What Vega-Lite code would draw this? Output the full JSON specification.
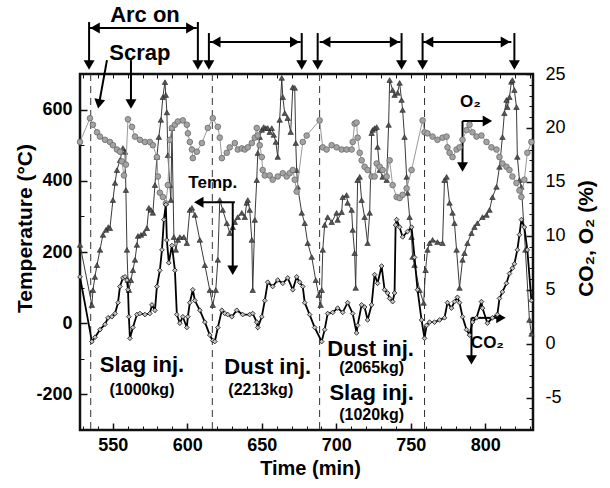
{
"$schema":"https://vega.github.io/schema/vega-lite/v6.json",
"width":453,"height":356,
"autosize":{"type":"none"},
"padding":{"left":80,"top":74,"right":77,"bottom":58},
"background":"white",
"config":{"view":{"stroke":"#111","strokeWidth":2.5},"font":"Liberation Sans","axis":{"grid":false,"domain":false,"labelFont":"Liberation Sans","titleFont":"Liberation Sans","labelColor":"#000","titleColor":"#000","tickColor":"#111"}},
"datasets":{
"temp":[{"t":528.0,"v":220},{"t":536.0,"v":51},{"t":536.7,"v":93},{"t":538.0,"v":130},{"t":539.4,"v":163},{"t":541.4,"v":206},{"t":543.4,"v":248},{"t":545.4,"v":262},{"t":547.0,"v":270},{"t":548.1,"v":267},{"t":550.1,"v":346},{"t":551.5,"v":394},{"t":552.8,"v":430},{"t":554.8,"v":458},{"t":556.8,"v":492},{"t":558.2,"v":481},{"t":558.8,"v":374},{"t":559.5,"v":206},{"t":560.2,"v":121},{"t":560.8,"v":93},{"t":562.2,"v":121},{"t":563.5,"v":149},{"t":564.9,"v":178},{"t":566.2,"v":220},{"t":566.9,"v":245},{"t":568.9,"v":248},{"t":570.9,"v":253},{"t":572.9,"v":267},{"t":574.2,"v":324},{"t":575.6,"v":318},{"t":576.9,"v":310},{"t":578.3,"v":388},{"t":579.6,"v":467},{"t":580.9,"v":523},{"t":582.3,"v":571},{"t":583.6,"v":635},{"t":585.0,"v":677},{"t":585.6,"v":641},{"t":586.3,"v":592},{"t":587.0,"v":472},{"t":588.3,"v":388},{"t":589.0,"v":346},{"t":589.7,"v":548},{"t":591.0,"v":242},{"t":592.3,"v":206},{"t":593.7,"v":234},{"t":595.0,"v":242},{"t":597.7,"v":242},{"t":599.7,"v":225},{"t":601.7,"v":318},{"t":603.1,"v":324},{"t":605.1,"v":304},{"t":608.4,"v":234},{"t":611.8,"v":163},{"t":615.1,"v":93},{"t":617.1,"v":51},{"t":619.1,"v":93},{"t":620.5,"v":178},{"t":621.8,"v":346},{"t":623.8,"v":318},{"t":626.5,"v":281},{"t":628.5,"v":253},{"t":630.5,"v":270},{"t":631.9,"v":284},{"t":633.9,"v":298},{"t":636.6,"v":310},{"t":638.6,"v":298},{"t":639.9,"v":338},{"t":640.6,"v":346},{"t":641.9,"v":318},{"t":643.3,"v":234},{"t":643.9,"v":93},{"t":645.3,"v":290},{"t":646.6,"v":402},{"t":647.3,"v":478},{"t":648.6,"v":523},{"t":650.0,"v":543},{"t":651.3,"v":551},{"t":652.7,"v":548},{"t":654.0,"v":548},{"t":655.3,"v":537},{"t":656.7,"v":548},{"t":658.0,"v":529},{"t":659.4,"v":509},{"t":660.7,"v":467},{"t":662.0,"v":571},{"t":663.4,"v":689},{"t":664.1,"v":635},{"t":665.4,"v":590},{"t":667.4,"v":576},{"t":669.4,"v":537},{"t":670.8,"v":663},{"t":672.1,"v":661},{"t":672.8,"v":506},{"t":673.4,"v":430},{"t":674.1,"v":383},{"t":676.8,"v":310},{"t":678.8,"v":281},{"t":680.8,"v":225},{"t":683.5,"v":186},{"t":686.2,"v":121},{"t":688.2,"v":79},{"t":689.5,"v":51},{"t":690.2,"v":93},{"t":690.9,"v":206},{"t":692.2,"v":276},{"t":694.2,"v":298},{"t":696.9,"v":284},{"t":700.2,"v":310},{"t":700.9,"v":290},{"t":703.6,"v":312},{"t":704.3,"v":354},{"t":706.9,"v":360},{"t":707.6,"v":338},{"t":710.3,"v":318},{"t":711.0,"v":262},{"t":712.3,"v":197},{"t":713.0,"v":99},{"t":714.3,"v":402},{"t":715.7,"v":411},{"t":717.0,"v":346},{"t":719.0,"v":298},{"t":721.0,"v":225},{"t":722.4,"v":310},{"t":723.7,"v":534},{"t":724.4,"v":543},{"t":725.7,"v":548},{"t":727.1,"v":551},{"t":727.7,"v":495},{"t":729.1,"v":430},{"t":731.1,"v":411},{"t":733.8,"v":402},{"t":735.1,"v":557},{"t":735.8,"v":683},{"t":737.8,"v":655},{"t":739.1,"v":641},{"t":741.1,"v":647},{"t":742.5,"v":675},{"t":743.8,"v":627},{"t":744.5,"v":599},{"t":745.8,"v":523},{"t":747.2,"v":411},{"t":747.8,"v":366},{"t":749.2,"v":298},{"t":750.5,"v":242},{"t":751.2,"v":186},{"t":752.5,"v":163},{"t":755.9,"v":93},{"t":758.6,"v":57},{"t":759.9,"v":149},{"t":761.2,"v":206},{"t":762.6,"v":225},{"t":764.6,"v":234},{"t":767.9,"v":228},{"t":771.3,"v":225},{"t":772.6,"v":402},{"t":774.0,"v":411},{"t":776.0,"v":338},{"t":778.0,"v":310},{"t":779.3,"v":281},{"t":780.7,"v":206},{"t":782.7,"v":99},{"t":784.7,"v":178},{"t":786.0,"v":197},{"t":788.0,"v":225},{"t":790.7,"v":253},{"t":792.7,"v":270},{"t":794.7,"v":281},{"t":798.1,"v":298},{"t":800.8,"v":304},{"t":802.8,"v":318},{"t":804.8,"v":354},{"t":807.5,"v":383},{"t":809.5,"v":439},{"t":811.5,"v":523},{"t":812.8,"v":590},{"t":814.2,"v":627},{"t":814.8,"v":607},{"t":816.2,"v":635},{"t":817.5,"v":678},{"t":818.2,"v":683},{"t":819.5,"v":655},{"t":820.9,"v":607},{"t":821.5,"v":467},{"t":822.9,"v":402},{"t":824.2,"v":383},{"t":826.9,"v":206},{"t":829.6,"v":9},{"t":831.0,"v":-30}],
"co2":[{"t":528.0,"v":6.2},{"t":536.0,"v":0.2},{"t":538.1,"v":0.6},{"t":541.4,"v":1.3},{"t":544.8,"v":1.8},{"t":546.8,"v":2.4},{"t":549.4,"v":2.5},{"t":551.5,"v":2.8},{"t":553.5,"v":3.8},{"t":554.8,"v":5.3},{"t":556.8,"v":6.1},{"t":558.2,"v":6.2},{"t":559.5,"v":5.9},{"t":560.2,"v":5.0},{"t":560.8,"v":2.5},{"t":561.5,"v":0.5},{"t":563.5,"v":1.5},{"t":566.2,"v":2.7},{"t":568.2,"v":2.8},{"t":571.6,"v":2.7},{"t":574.9,"v":2.8},{"t":576.3,"v":3.6},{"t":578.3,"v":3.1},{"t":579.6,"v":5.3},{"t":581.6,"v":6.8},{"t":583.0,"v":8.7},{"t":584.3,"v":11.5},{"t":585.6,"v":12.9},{"t":586.3,"v":9.6},{"t":587.6,"v":7.5},{"t":589.7,"v":9.1},{"t":591.7,"v":6.8},{"t":593.0,"v":2.7},{"t":595.0,"v":1.9},{"t":597.0,"v":2.5},{"t":599.7,"v":1.5},{"t":600.4,"v":2.5},{"t":601.7,"v":3.8},{"t":603.7,"v":5.0},{"t":605.1,"v":4.0},{"t":608.4,"v":3.1},{"t":611.8,"v":2.0},{"t":615.1,"v":0.8},{"t":617.1,"v":0.3},{"t":618.5,"v":0.2},{"t":620.5,"v":1.5},{"t":623.2,"v":3.1},{"t":625.2,"v":2.8},{"t":627.2,"v":2.7},{"t":629.9,"v":2.5},{"t":633.2,"v":3.1},{"t":637.2,"v":2.7},{"t":641.9,"v":2.7},{"t":643.9,"v":2.8},{"t":646.6,"v":2.0},{"t":647.3,"v":1.5},{"t":650.0,"v":2.5},{"t":652.0,"v":4.0},{"t":654.0,"v":5.7},{"t":657.3,"v":5.3},{"t":660.7,"v":5.9},{"t":664.1,"v":5.6},{"t":667.4,"v":6.1},{"t":670.8,"v":5.0},{"t":673.4,"v":6.2},{"t":675.4,"v":5.7},{"t":677.5,"v":5.3},{"t":678.8,"v":3.8},{"t":682.1,"v":2.7},{"t":685.5,"v":1.5},{"t":690.2,"v":0.2},{"t":692.2,"v":1.3},{"t":694.2,"v":2.8},{"t":697.6,"v":2.9},{"t":700.9,"v":3.3},{"t":704.3,"v":2.9},{"t":707.6,"v":3.8},{"t":711.0,"v":2.8},{"t":713.6,"v":1.0},{"t":714.3,"v":1.7},{"t":717.0,"v":3.6},{"t":719.0,"v":3.4},{"t":721.0,"v":2.2},{"t":723.7,"v":3.6},{"t":725.7,"v":6.4},{"t":727.7,"v":5.6},{"t":730.4,"v":7.2},{"t":732.4,"v":5.0},{"t":734.4,"v":4.7},{"t":735.8,"v":4.2},{"t":737.8,"v":3.9},{"t":739.1,"v":4.7},{"t":739.8,"v":11.0},{"t":740.5,"v":11.5},{"t":742.5,"v":10.8},{"t":744.5,"v":9.9},{"t":747.8,"v":10.4},{"t":750.5,"v":10.8},{"t":752.5,"v":8.0},{"t":754.5,"v":5.0},{"t":757.2,"v":2.2},{"t":759.2,"v":0.5},{"t":760.6,"v":1.7},{"t":762.6,"v":2.0},{"t":765.9,"v":2.0},{"t":769.3,"v":2.2},{"t":772.6,"v":2.4},{"t":774.6,"v":3.8},{"t":777.3,"v":3.3},{"t":779.3,"v":3.9},{"t":781.3,"v":4.3},{"t":782.7,"v":3.8},{"t":784.7,"v":2.5},{"t":787.4,"v":1.3},{"t":789.4,"v":0.8},{"t":791.4,"v":2.0},{"t":794.1,"v":2.4},{"t":797.4,"v":3.9},{"t":798.1,"v":3.3},{"t":801.4,"v":1.9},{"t":804.8,"v":2.4},{"t":808.1,"v":2.7},{"t":809.5,"v":4.2},{"t":811.5,"v":4.8},{"t":814.2,"v":5.6},{"t":816.2,"v":6.5},{"t":818.2,"v":7.0},{"t":819.5,"v":7.4},{"t":821.5,"v":8.7},{"t":822.9,"v":10.1},{"t":824.2,"v":11.5},{"t":826.2,"v":10.8},{"t":828.2,"v":8.7},{"t":830.9,"v":4.0}],
"o2":[{"t":528.0,"v":18.7},{"t":534.7,"v":20.9},{"t":536.7,"v":20.3},{"t":539.4,"v":19.6},{"t":541.4,"v":19.2},{"t":544.8,"v":18.9},{"t":548.1,"v":18.7},{"t":550.1,"v":18.4},{"t":552.8,"v":18.0},{"t":554.8,"v":17.8},{"t":556.1,"v":16.9},{"t":557.5,"v":15.6},{"t":558.8,"v":16.6},{"t":560.2,"v":20.8},{"t":562.9,"v":20.1},{"t":564.9,"v":19.2},{"t":568.2,"v":18.9},{"t":571.6,"v":18.7},{"t":574.9,"v":18.7},{"t":576.9,"v":18.4},{"t":579.6,"v":17.3},{"t":580.3,"v":15.5},{"t":581.6,"v":14.0},{"t":583.6,"v":13.6},{"t":585.6,"v":13.0},{"t":587.0,"v":14.7},{"t":588.3,"v":18.9},{"t":589.7,"v":20.0},{"t":591.7,"v":20.3},{"t":593.7,"v":20.6},{"t":597.0,"v":20.7},{"t":599.7,"v":20.3},{"t":600.4,"v":19.5},{"t":601.7,"v":18.7},{"t":603.1,"v":18.0},{"t":603.7,"v":17.2},{"t":606.4,"v":17.8},{"t":609.8,"v":18.6},{"t":613.8,"v":20.0},{"t":617.1,"v":20.9},{"t":620.5,"v":20.1},{"t":621.8,"v":19.1},{"t":623.2,"v":17.2},{"t":626.5,"v":17.7},{"t":628.5,"v":18.2},{"t":631.9,"v":18.6},{"t":633.9,"v":18.0},{"t":636.6,"v":18.1},{"t":638.6,"v":18.0},{"t":640.6,"v":18.2},{"t":643.3,"v":18.6},{"t":645.3,"v":19.1},{"t":646.6,"v":20.0},{"t":647.3,"v":19.3},{"t":648.6,"v":18.4},{"t":650.0,"v":17.3},{"t":650.6,"v":16.1},{"t":652.0,"v":15.6},{"t":655.3,"v":15.6},{"t":657.3,"v":15.2},{"t":660.7,"v":15.5},{"t":664.1,"v":15.8},{"t":666.7,"v":15.5},{"t":668.7,"v":15.8},{"t":670.8,"v":16.1},{"t":672.1,"v":15.2},{"t":673.4,"v":14.1},{"t":677.5,"v":18.7},{"t":680.1,"v":19.3},{"t":688.8,"v":20.7},{"t":690.9,"v":18.2},{"t":693.5,"v":18.0},{"t":696.9,"v":18.4},{"t":700.2,"v":18.2},{"t":703.6,"v":18.0},{"t":706.9,"v":18.0},{"t":710.3,"v":18.0},{"t":711.0,"v":18.7},{"t":712.3,"v":20.4},{"t":713.6,"v":20.5},{"t":714.3,"v":19.1},{"t":715.7,"v":17.7},{"t":717.0,"v":17.0},{"t":719.0,"v":16.4},{"t":721.0,"v":16.1},{"t":723.7,"v":15.5},{"t":725.7,"v":15.5},{"t":727.1,"v":16.7},{"t":729.1,"v":16.4},{"t":731.1,"v":16.1},{"t":733.8,"v":15.5},{"t":735.8,"v":17.0},{"t":737.8,"v":14.7},{"t":740.5,"v":13.6},{"t":742.5,"v":13.5},{"t":744.5,"v":13.8},{"t":747.2,"v":14.4},{"t":750.5,"v":16.1},{"t":757.9,"v":20.7},{"t":759.2,"v":19.6},{"t":761.2,"v":19.5},{"t":764.6,"v":19.2},{"t":767.9,"v":18.9},{"t":771.3,"v":19.1},{"t":774.0,"v":19.2},{"t":774.6,"v":18.2},{"t":776.0,"v":17.7},{"t":778.0,"v":17.3},{"t":780.7,"v":18.0},{"t":782.7,"v":18.2},{"t":784.7,"v":18.9},{"t":787.4,"v":19.8},{"t":789.4,"v":20.3},{"t":791.4,"v":19.6},{"t":794.1,"v":19.2},{"t":797.4,"v":19.3},{"t":800.8,"v":18.7},{"t":804.1,"v":18.2},{"t":807.5,"v":18.0},{"t":809.5,"v":17.3},{"t":811.5,"v":16.7},{"t":814.2,"v":16.4},{"t":816.2,"v":16.1},{"t":818.2,"v":15.5},{"t":820.9,"v":14.9},{"t":822.9,"v":14.2},{"t":824.2,"v":13.6},{"t":826.2,"v":15.2},{"t":828.2,"v":17.7},{"t":830.9,"v":18.7}],
"dashes":[{"t":535.2},{"t":616.8},{"t":688.8},{"t":759.2}],
"arrows":[{"t1":534.1,"v1":846,"t2":534.1,"v2":725},{"t1":607.1,"v1":846,"t2":607.1,"v2":725},{"t1":614.5,"v1":815,"t2":614.5,"v2":725},{"t1":676.8,"v1":815,"t2":676.8,"v2":725},{"t1":687.5,"v1":815,"t2":687.5,"v2":725},{"t1":743.8,"v1":815,"t2":743.8,"v2":725},{"t1":757.9,"v1":815,"t2":757.9,"v2":725},{"t1":819.5,"v1":815,"t2":819.5,"v2":725},{"t1":534.1,"v1":829,"t2":606.4,"v2":829},{"t1":615.1,"v1":790,"t2":676.1,"v2":790},{"t1":688.8,"v1":790,"t2":743.1,"v2":790},{"t1":757.9,"v1":790,"t2":817.5,"v2":790},{"t1":546.1,"v1":739,"t2":541.0,"v2":621},{"t1":562.2,"v1":739,"t2":562.2,"v2":621},{"t1":631.9,"v1":340,"t2":609.0,"v2":340},{"t1":630.5,"v1":340,"t2":630.5,"v2":155},{"t1":784.7,"v1":568,"t2":800.0,"v2":568},{"t1":784.7,"v1":568,"t2":784.7,"v2":445},{"t1":790.7,"v1":15,"t2":809.0,"v2":15},{"t1":790.7,"v1":15,"t2":790.7,"v2":-95}],
"heads":[{"t":534.1,"v":725,"dir":"down"},{"t":607.1,"v":725,"dir":"down"},{"t":614.5,"v":725,"dir":"down"},{"t":676.8,"v":725,"dir":"down"},{"t":687.5,"v":725,"dir":"down"},{"t":743.8,"v":725,"dir":"down"},{"t":757.9,"v":725,"dir":"down"},{"t":819.5,"v":725,"dir":"down"},{"t":562.2,"v":616,"dir":"down"},{"t":630.5,"v":149,"dir":"down"},{"t":784.7,"v":439,"dir":"down"},{"t":790.7,"v":-103,"dir":"down"},{"t":538.1,"v":829,"dir":"left"},{"t":619.1,"v":790,"dir":"left"},{"t":692.9,"v":790,"dir":"left"},{"t":761.9,"v":790,"dir":"left"},{"t":607.7,"v":340,"dir":"left"},{"t":602.4,"v":829,"dir":"right"},{"t":672.1,"v":790,"dir":"right"},{"t":739.1,"v":790,"dir":"right"},{"t":813.5,"v":790,"dir":"right"},{"t":801.4,"v":568,"dir":"right"},{"t":810.5,"v":15,"dir":"right"}],
"tilted":[{"t":540.7,"v":616}],
"bigtext":[{"t":571.6,"v":866,"label":"Arc on"},{"t":568.2,"v":759,"label":"Scrap"},{"t":569.6,"v":-117,"label":"Slag inj."},{"t":654.0,"v":-123,"label":"Dust inj."},{"t":723.0,"v":-72,"label":"Dust inj."},{"t":723.7,"v":-196,"label":"Slag inj."}],
"smalltext":[{"t":569.6,"v":-188,"label":"(1000kg)"},{"t":649.3,"v":-188,"label":"(2213kg)"},{"t":723.7,"v":-126,"label":"(2065kg)"},{"t":723.7,"v":-258,"label":"(1020kg)"}],
"midtext":[{"t":617.1,"v":394,"label":"Temp."},{"t":790.0,"v":621,"label":"O₂"},{"t":801.4,"v":-56,"label":"CO₂"}]
},
"layer":[
{"layer":[
 {"data":{"name":"dashes"},"mark":{"type":"rule","strokeDash":[7,5],"strokeWidth":1,"color":"#333"},
  "encoding":{"x":{"field":"t","type":"quantitative","scale":{"domain":[528,832],"nice":false,"zero":false},"axis":null},
   "y":{"datum":700,"type":"quantitative","scale":{"domain":[-300,700],"nice":false,"zero":false},"axis":null},"y2":{"datum":-300}}},
 {"data":{"name":"temp"},"mark":{"type":"line","color":"#3a3a3a","strokeWidth":1},
  "encoding":{"x":{"field":"t","type":"quantitative","scale":{"domain":[528,832],"nice":false,"zero":false},
    "axis":{"orient":"bottom","values":[550,600,650,700,750,800],"tickSize":-7,"tickWidth":1.5,"labelPadding":13,"labelFontSize":18,"labelFontWeight":"bold","title":"Time (min)","titleFontSize":20,"titleFontWeight":"bold","titleBaseline":"middle","titleX":230,"titleY":38}},
   "y":{"field":"v","type":"quantitative","scale":{"domain":[-300,700],"nice":false,"zero":false},
    "axis":{"orient":"left","values":[-200,0,200,400,600],"labelExpr":"replace(datum.label, '−', '-')","tickSize":-7,"tickWidth":1.5,"labelPadding":15,"labelFontSize":18,"labelFontWeight":"bold","title":"Temperature (°C)","titleFontSize":21,"titleFontWeight":"bold","titleBaseline":"middle","titleX":-55,"titleY":154}}}},
 {"data":{"name":"temp"},"mark":{"type":"point","shape":"triangle-up","filled":true,"fill":"#555","stroke":"#222","strokeWidth":0.6,"size":30,"opacity":1},
  "encoding":{"x":{"field":"t","type":"quantitative","axis":null},"y":{"field":"v","type":"quantitative","axis":null}}},
 {"data":{"name":"temp"},"mark":{"type":"point","opacity":0},
  "encoding":{"x":{"field":"t","type":"quantitative","axis":{"orient":"bottom","values":[530,540,560,570,580,590,610,620,630,640,660,670,680,690,710,720,730,740,760,770,780,790,810,820,830],"tickSize":-4,"labels":false,"title":null}},
   "y":{"field":"v","type":"quantitative","axis":{"orient":"left","values":[-300,-100,100,300,500,700],"tickSize":-4,"labels":false,"title":null}}}},
 {"data":{"name":"temp"},"mark":{"type":"point","opacity":0},
  "encoding":{"x":{"field":"t","type":"quantitative","axis":{"orient":"top","values":[530,540,550,560,570,580,590,600,610,620,630,640,650,660,670,680,690,700,710,720,730,740,750,760,770,780,790,800,810,820,830],"tickSize":-4,"labels":false,"title":null}}}},
 {"data":{"name":"arrows"},"mark":{"type":"rule","strokeWidth":2,"color":"#000"},
  "encoding":{"x":{"field":"t1","type":"quantitative","axis":null},"x2":{"field":"t2"},"y":{"field":"v1","type":"quantitative","axis":null},"y2":{"field":"v2"}}},
 {"data":{"name":"heads"},"mark":{"type":"point","filled":true,"color":"#000","opacity":1,"size":120},
  "encoding":{"x":{"field":"t","type":"quantitative","axis":null},"y":{"field":"v","type":"quantitative","axis":null},
   "shape":{"field":"dir","type":"nominal","scale":{"domain":["down","left","right"],"range":["triangle-down","triangle-left","triangle-right"]},"legend":null}}},
 {"data":{"name":"tilted"},"mark":{"type":"point","shape":"triangle-down","angle":10,"filled":true,"color":"#000","opacity":1,"size":120},
  "encoding":{"x":{"field":"t","type":"quantitative","axis":null},"y":{"field":"v","type":"quantitative","axis":null}}},
 {"data":{"name":"bigtext"},"mark":{"type":"text","font":"Liberation Sans","fontWeight":"bold","fontSize":22,"align":"center","baseline":"middle","color":"#000"},
  "encoding":{"x":{"field":"t","type":"quantitative","axis":null},"y":{"field":"v","type":"quantitative","axis":null},"text":{"field":"label"}}},
 {"data":{"name":"smalltext"},"mark":{"type":"text","font":"Liberation Sans","fontWeight":"bold","fontSize":16,"align":"center","baseline":"middle","color":"#000"},
  "encoding":{"x":{"field":"t","type":"quantitative","axis":null},"y":{"field":"v","type":"quantitative","axis":null},"text":{"field":"label"}}},
 {"data":{"name":"midtext"},"mark":{"type":"text","font":"Liberation Sans","fontWeight":"bold","fontSize":17,"align":"center","baseline":"middle","color":"#000"},
  "encoding":{"x":{"field":"t","type":"quantitative","axis":null},"y":{"field":"v","type":"quantitative","axis":null},"text":{"field":"label"}}}
 ],
 "resolve":{"axis":{"x":"independent","y":"independent"}}
},
{"layer":[
 {"data":{"name":"o2"},"mark":{"type":"line","color":"#9a9a9a","strokeWidth":1},
  "encoding":{"x":{"field":"t","type":"quantitative","axis":null},
   "y":{"field":"v","type":"quantitative","scale":{"domain":[-8,25],"nice":false,"zero":false},
    "axis":{"orient":"right","values":[-5,0,5,10,15,20,25],"labelExpr":"replace(datum.label, '−', '-')","tickSize":-7,"tickWidth":1.5,"labelPadding":19,"labelFontSize":18,"labelFontWeight":"normal","title":"CO₂, O₂ (%)","titleFontSize":21,"titleFontWeight":"bold","titleAngle":270,"titleBaseline":"middle","titleX":53,"titleY":164}}}},
 {"data":{"name":"o2"},"mark":{"type":"point","shape":"circle","filled":true,"fill":"#a3a3a3","stroke":"#6a6a6a","strokeWidth":0.8,"size":32,"opacity":1},
  "encoding":{"x":{"field":"t","type":"quantitative","axis":null},"y":{"field":"v","type":"quantitative","axis":null}}},
 {"data":{"name":"co2"},"mark":{"type":"line","color":"#000","strokeWidth":1.8},
  "encoding":{"x":{"field":"t","type":"quantitative","axis":null},"y":{"field":"v","type":"quantitative","axis":null}}},
 {"data":{"name":"co2"},"mark":{"type":"point","shape":"diamond","filled":true,"fill":"#c4c4c4","stroke":"#111","strokeWidth":0.8,"size":22,"opacity":1},
  "encoding":{"x":{"field":"t","type":"quantitative","axis":null},"y":{"field":"v","type":"quantitative","axis":null}}},
 {"data":{"name":"co2"},"mark":{"type":"point","opacity":0},
  "encoding":{"x":{"field":"t","type":"quantitative","axis":null},
   "y":{"field":"v","type":"quantitative","axis":{"orient":"right","values":[-8,-7,-6,-4,-3,-2,-1,1,2,3,4,6,7,8,9,11,12,13,14,16,17,18,19,21,22,23,24],"tickSize":-4,"labels":false,"title":null}}}}
 ],
 "resolve":{"axis":{"y":"independent"}}
}
],
"resolve":{"scale":{"y":"independent"}}
}
